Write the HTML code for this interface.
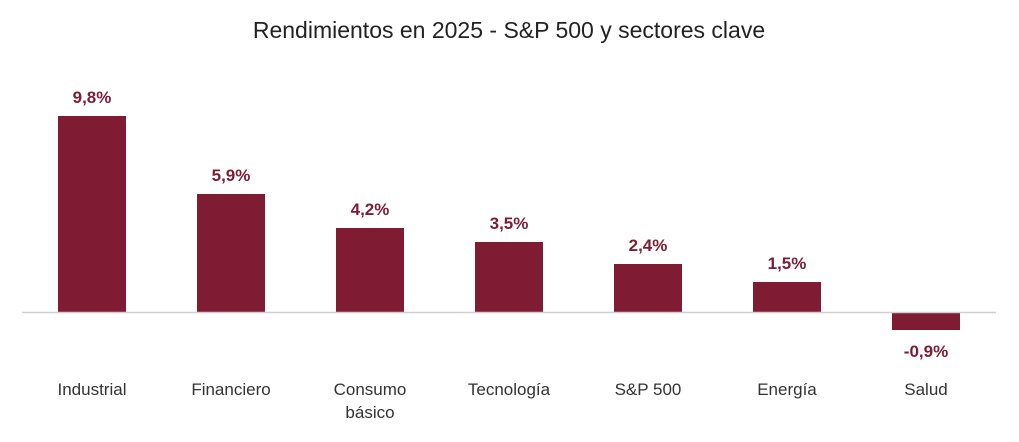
<!DOCTYPE html>
<html><head><meta charset="utf-8"><style>
body{margin:0;background:#fff;}
svg text{font-family:"Liberation Sans",sans-serif;}
</style></head><body>
<svg width="1019" height="437" viewBox="0 0 1019 437">
<rect width="1019" height="437" fill="#fff"/>
<text x="509" y="38" text-anchor="middle" font-size="23" fill="#222">Rendimientos en 2025 - S&amp;P 500 y sectores clave</text>
<g id="bars"></g>
<line x1="22" x2="996" y1="312.5" y2="312.5" stroke="#d0d0d0" stroke-width="1.5"/>
</svg>
<script>
const categories=[["Industrial"],["Financiero"],["Consumo","básico"],["Tecnología"],["S&P 500"],["Energía"],["Salud"]];
const values=[9.8,5.9,4.2,3.5,2.4,1.5,-0.9];
const valueLabels=["9,8%","5,9%","4,2%","3,5%","2,4%","1,5%","-0,9%"];
const ns="http://www.w3.org/2000/svg";
const g=document.getElementById('bars');
const zeroY=312, pxPer=20, x0=92, step=139, bw=68, color="#7f1c34";
const y=v=>zeroY-v*pxPer;
values.forEach((v,i)=>{
  const cx=x0+i*step;
  const r=document.createElementNS(ns,'rect');
  r.setAttribute('x',cx-bw/2);
  r.setAttribute('y',Math.min(y(v),zeroY));
  r.setAttribute('width',bw);
  r.setAttribute('height',Math.abs(y(v)-zeroY));
  r.setAttribute('fill',color);
  
  
  g.appendChild(r);
  const t=document.createElementNS(ns,'text');
  t.setAttribute('x',cx);
  t.setAttribute('y',v>=0?y(v)-13:y(v)+27);
  t.setAttribute('text-anchor','middle');
  t.setAttribute('font-size','17');
  t.setAttribute('font-weight','bold');
  t.setAttribute('fill',color);
  t.textContent=valueLabels[i];
  
  
  g.appendChild(t);
  categories[i].forEach((line,j)=>{
    const c=document.createElementNS(ns,'text');
    c.setAttribute('x',cx);
    c.setAttribute('y',395+j*23);
    c.setAttribute('text-anchor','middle');
    c.setAttribute('font-size','17');
    c.setAttribute('fill','#333');
    c.textContent=line;
    
    
    g.appendChild(c);
  });
});
</script>
</body></html>
